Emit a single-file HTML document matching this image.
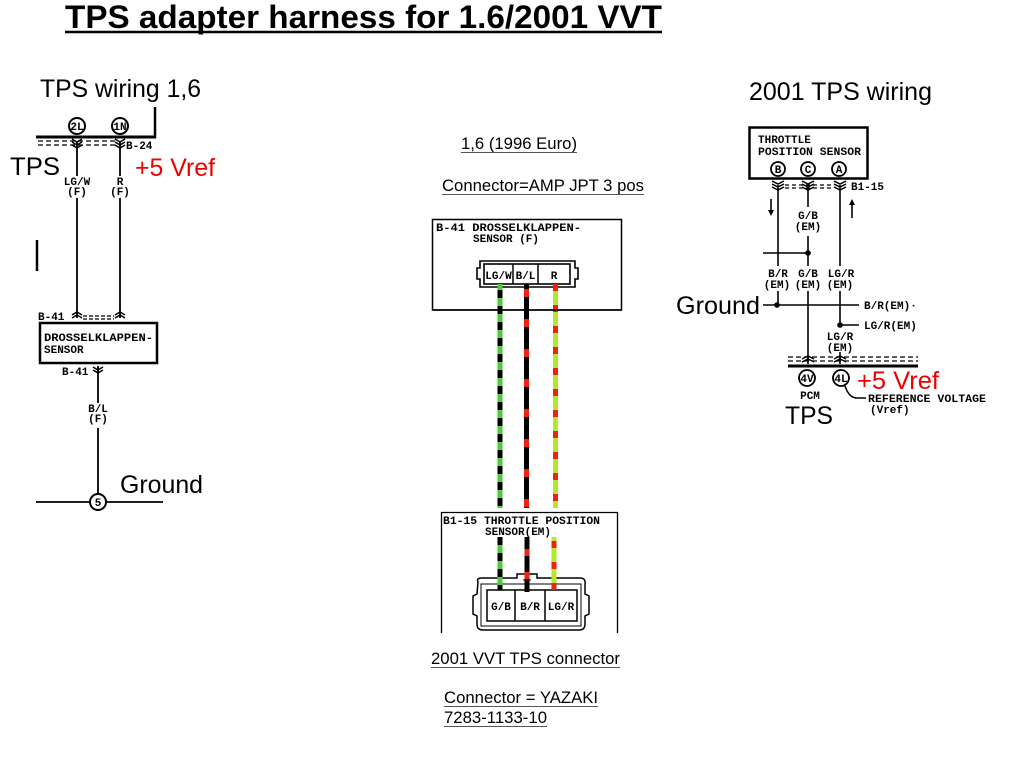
<!DOCTYPE html>
<html>
<head>
<meta charset="utf-8">
<style>
html,body{margin:0;padding:0;background:#fff;}
svg{display:block;}
.s{font-family:"Liberation Sans",sans-serif;fill:#000;}
.m{font-family:"Liberation Mono",monospace;font-weight:bold;fill:#000;font-size:11px;}
</style>
</head>
<body>
<svg width="1024" height="768" viewBox="0 0 1024 768" xmlns="http://www.w3.org/2000/svg">
<rect width="1024" height="768" fill="#fff"/>

<!-- Title -->
<text class="s" x="65" y="28" font-size="32" font-weight="bold" textLength="597" lengthAdjust="spacingAndGlyphs">TPS adapter harness for 1.6/2001 VVT</text>
<line x1="65" y1="32" x2="662" y2="32" stroke="#000" stroke-width="2.5"/>

<!-- ================= LEFT DIAGRAM ================= -->
<text class="s" x="40" y="97" font-size="25" textLength="161" lengthAdjust="spacingAndGlyphs">TPS wiring 1,6</text>
<line x1="155" y1="107" x2="155" y2="138" stroke="#000" stroke-width="2.5"/>
<line x1="36" y1="137" x2="156" y2="137" stroke="#000" stroke-width="3"/>
<circle cx="77" cy="126" r="8" fill="#fff" stroke="#000" stroke-width="2"/>
<text class="m" x="77" y="130" font-size="9" text-anchor="middle">2L</text>
<circle cx="120" cy="126" r="8" fill="#fff" stroke="#000" stroke-width="2"/>
<text class="m" x="120" y="130" font-size="9" text-anchor="middle">1N</text>
<line x1="38" y1="141" x2="116" y2="141" stroke="#000" stroke-width="1.2" stroke-dasharray="5 3"/>
<line x1="38" y1="145" x2="116" y2="145" stroke="#000" stroke-width="1.2" stroke-dasharray="5 3"/>
<g fill="none" stroke="#000" stroke-width="1.5">
<path d="M72 139 L77 142 L82 139 M72 142 L77 145 L82 142 M72 145 L77 148 L82 145"/>
<path d="M115 139 L120 142 L125 139 M115 142 L120 145 L125 142 M115 145 L120 148 L125 145"/>
</g>
<text class="m" x="126" y="149">B-24</text>
<text class="s" x="10" y="175" font-size="25" textLength="50" lengthAdjust="spacingAndGlyphs">TPS</text>
<text class="s" x="135" y="176" font-size="25" fill="#e00" style="fill:#e00" textLength="80" lengthAdjust="spacingAndGlyphs">+5 Vref</text>
<text class="m" x="77" y="185" text-anchor="middle">LG/W</text>
<text class="m" x="77" y="195" text-anchor="middle">(F)</text>
<text class="m" x="120" y="185" text-anchor="middle">R</text>
<text class="m" x="120" y="195" text-anchor="middle">(F)</text>
<g stroke="#000" stroke-width="1.8">
<line x1="77" y1="142" x2="77" y2="176"/>
<line x1="77" y1="198" x2="77" y2="318"/>
<line x1="120" y1="142" x2="120" y2="176"/>
<line x1="120" y1="198" x2="120" y2="318"/>
</g>
<line x1="37" y1="240" x2="37" y2="271" stroke="#000" stroke-width="2.5"/>
<text class="m" x="38" y="320">B-41</text>
<g fill="none" stroke="#000" stroke-width="1.5">
<path d="M72 315 L77 312 L82 315 M72 318 L77 315 L82 318"/>
<path d="M115 315 L120 312 L125 315 M115 318 L120 315 L125 318"/>
</g>
<line x1="83" y1="316" x2="114" y2="316" stroke="#000" stroke-width="1.2" stroke-dasharray="4 2"/>
<line x1="83" y1="319" x2="114" y2="319" stroke="#000" stroke-width="1.2" stroke-dasharray="4 2"/>
<rect x="40" y="323" width="117" height="40" fill="#fff" stroke="#000" stroke-width="2.5"/>
<text class="m" x="44" y="341" textLength="109" lengthAdjust="spacingAndGlyphs">DROSSELKLAPPEN-</text>
<text class="m" x="44" y="353">SENSOR</text>
<text class="m" x="62" y="375">B-41</text>
<g fill="none" stroke="#000" stroke-width="1.5">
<path d="M93 367 L98 370 L103 367 M93 370 L98 373 L103 370"/>
</g>
<line x1="98" y1="366" x2="98" y2="403" stroke="#000" stroke-width="1.8"/>
<text class="m" x="98" y="412" text-anchor="middle">B/L</text>
<text class="m" x="98" y="422" text-anchor="middle">(F)</text>
<line x1="98" y1="428" x2="98" y2="494" stroke="#000" stroke-width="1.8"/>
<line x1="36" y1="502" x2="163" y2="502" stroke="#000" stroke-width="1.8"/>
<circle cx="98" cy="502" r="8" fill="#fff" stroke="#000" stroke-width="2"/>
<text class="m" x="98" y="506" font-size="10" text-anchor="middle">5</text>
<text class="s" x="120" y="493" font-size="25" textLength="83" lengthAdjust="spacingAndGlyphs">Ground</text>

<!-- ================= MIDDLE ================= -->
<text class="s" x="461" y="149" font-size="16.5" fill="#222" textLength="116" lengthAdjust="spacingAndGlyphs">1,6 (1996 Euro)</text>
<line x1="461" y1="152.5" x2="577" y2="152.5" stroke="#555" stroke-width="1"/>
<text class="s" x="442" y="191" font-size="16.5" fill="#222" textLength="202" lengthAdjust="spacingAndGlyphs">Connector=AMP JPT 3 pos</text>
<line x1="442" y1="194.5" x2="644" y2="194.5" stroke="#555" stroke-width="1"/>

<!-- Box 1 -->
<rect x="432.5" y="219.5" width="189" height="90.5" fill="#fff" stroke="#000" stroke-width="1.5"/>
<text class="m" x="436" y="231" textLength="145" lengthAdjust="spacingAndGlyphs">B-41 DROSSELKLAPPEN-</text>
<text class="m" x="473" y="242">SENSOR (F)</text>
<!-- connector 1 -->
<path d="M480 261 L575 261 L575 268 L578 268 L578 279 L575 279 L575 287 L480 287 L480 279 L477 279 L477 268 L480 268 Z" fill="#fff" stroke="#000" stroke-width="1.6"/>
<rect x="484" y="264" width="86" height="20" fill="#fff" stroke="#000" stroke-width="1.6"/>
<line x1="513" y1="264" x2="513" y2="284" stroke="#000" stroke-width="1.5"/>
<line x1="538" y1="264" x2="538" y2="284" stroke="#000" stroke-width="1.5"/>
<text class="m" x="498.5" y="279" text-anchor="middle" font-size="10.5">LG/W</text>
<text class="m" x="525.5" y="279" text-anchor="middle" font-size="10.5">B/L</text>
<text class="m" x="554" y="279" text-anchor="middle" font-size="10.5">R</text>

<!-- Box 2 -->
<path d="M441.5 633 L441.5 512.5 L617.5 512.5 L617.5 633" fill="none" stroke="#000" stroke-width="1.3"/>
<text class="m" x="443" y="524" textLength="157" lengthAdjust="spacingAndGlyphs">B1-15 THROTTLE POSITION</text>
<text class="m" x="485" y="535">SENSOR(EM)</text>
<!-- connector 2 -->
<path d="M478 582 Q476 578 482 578 L517 578 L517 574 L537 574 L537 578 L580 578 Q586 578 585 584 L585 594 L589 596 L589 614 L585 616 L585 624 Q585 630 579 630 L483 630 Q477 630 477 624 L477 616 L473 614 L473 596 L477 594 Z" fill="#fff" stroke="#000" stroke-width="1.5"/>
<path d="M481 584 L581 584 L581 626 L481 626 Z" fill="none" stroke="#000" stroke-width="1"/>
<rect x="487" y="590" width="90" height="31" fill="#fff" stroke="#000" stroke-width="1.5"/>
<line x1="515" y1="590" x2="515" y2="621" stroke="#000" stroke-width="1.5"/>
<line x1="545" y1="590" x2="545" y2="621" stroke="#000" stroke-width="1.5"/>
<text class="m" x="501" y="610" text-anchor="middle" font-size="10.5">G/B</text>
<text class="m" x="530" y="610" text-anchor="middle" font-size="10.5">B/R</text>
<text class="m" x="561" y="610" text-anchor="middle" font-size="10.5">LG/R</text>
<path d="M523 580 L531 580 M527 576 L527 584" stroke="#000" stroke-width="1"/>

<!-- Wires -->
<g stroke-width="5" fill="none">
<!-- green/black -->
<line x1="500" y1="284" x2="500" y2="508" stroke="#4ccc3a"/>
<line x1="500" y1="284" x2="500" y2="508" stroke="#000" stroke-dasharray="8 8" stroke-dashoffset="-6"/>
<line x1="500" y1="537" x2="500" y2="590" stroke="#4ccc3a"/>
<line x1="500" y1="537" x2="500" y2="590" stroke="#000" stroke-dasharray="8 8"/>
<!-- black/red -->
<line x1="526.5" y1="284" x2="526.5" y2="508" stroke="#000"/>
<line x1="526.5" y1="284" x2="526.5" y2="508" stroke="#e21" stroke-dasharray="8 22" stroke-dashoffset="-5"/>
<line x1="527" y1="537" x2="527" y2="592" stroke="#000"/>
<line x1="527" y1="537" x2="527" y2="592" stroke="#e21" stroke-dasharray="7 16" stroke-dashoffset="-12"/>
<!-- lime/red -->
<line x1="555.5" y1="284" x2="555.5" y2="508" stroke="#b4e82a"/>
<line x1="555.5" y1="284" x2="555.5" y2="508" stroke="#e21" stroke-dasharray="7 14"/>
<line x1="554" y1="537" x2="554" y2="590" stroke="#b4e82a"/>
<line x1="554" y1="537" x2="554" y2="590" stroke="#e21" stroke-dasharray="7 14" stroke-dashoffset="-4"/>
</g>
<line x1="432.5" y1="310" x2="621.5" y2="310" stroke="#000" stroke-width="1.5"/>

<text class="s" x="431" y="664" font-size="16.5" fill="#222" textLength="189" lengthAdjust="spacingAndGlyphs">2001 VVT TPS connector</text>
<line x1="431" y1="667.5" x2="620" y2="667.5" stroke="#555" stroke-width="1"/>
<text class="s" x="444" y="703" font-size="16.5" fill="#222" textLength="154" lengthAdjust="spacingAndGlyphs">Connector = YAZAKI</text>
<line x1="444" y1="706.5" x2="598" y2="706.5" stroke="#555" stroke-width="1"/>
<text class="s" x="444" y="723" font-size="16.5" fill="#222" textLength="103" lengthAdjust="spacingAndGlyphs">7283-1133-10</text>
<line x1="444" y1="726.5" x2="547" y2="726.5" stroke="#555" stroke-width="1"/>

<!-- ================= RIGHT DIAGRAM ================= -->
<text class="s" x="749" y="100" font-size="25" textLength="183" lengthAdjust="spacingAndGlyphs">2001 TPS wiring</text>
<rect x="749.5" y="127.5" width="118" height="51" fill="#fff" stroke="#000" stroke-width="2.5"/>
<text class="m" x="758" y="143">THROTTLE</text>
<text class="m" x="758" y="155" textLength="103" lengthAdjust="spacingAndGlyphs">POSITION SENSOR</text>
<circle cx="778" cy="169" r="7" fill="#fff" stroke="#000" stroke-width="1.8"/>
<text class="m" x="778" y="173" font-size="10" text-anchor="middle">B</text>
<circle cx="808" cy="169" r="7" fill="#fff" stroke="#000" stroke-width="1.8"/>
<text class="m" x="808" y="173" font-size="10" text-anchor="middle">C</text>
<circle cx="839" cy="169" r="7" fill="#fff" stroke="#000" stroke-width="1.8"/>
<text class="m" x="839" y="173" font-size="10" text-anchor="middle">A</text>
<g fill="none" stroke="#000" stroke-width="1.5">
<path d="M772 181 L778 184 L784 181 M772 184 L778 187 L784 184 M772 187 L778 190 L784 187"/>
<path d="M802 181 L808 184 L814 181 M802 184 L808 187 L814 184 M802 187 L808 190 L814 187"/>
<path d="M834 181 L840 184 L846 181 M834 184 L840 187 L846 184 M834 187 L840 190 L846 187"/>
</g>
<line x1="785" y1="185" x2="833" y2="185" stroke="#000" stroke-width="1.2" stroke-dasharray="4 3"/>
<line x1="785" y1="188" x2="833" y2="188" stroke="#000" stroke-width="1.2" stroke-dasharray="4 3"/>
<text class="m" x="851" y="190">B1-15</text>
<g stroke="#000" stroke-width="1.6" fill="none">
<line x1="778" y1="185" x2="778" y2="266"/>
<line x1="808" y1="185" x2="808" y2="207"/>
<line x1="808" y1="236" x2="808" y2="266"/>
<line x1="840" y1="185" x2="840" y2="266"/>
<line x1="763" y1="253" x2="808" y2="253"/>
<line x1="771" y1="199" x2="771" y2="213"/>
<line x1="852" y1="203" x2="852" y2="218"/>
</g>
<path d="M768 210 L771 216 L774 210 Z" fill="#000"/>
<path d="M849 205 L852 199 L855 205 Z" fill="#000"/>
<circle cx="808" cy="253" r="2.8" fill="#000"/>
<text class="m" x="808" y="219" text-anchor="middle">G/B</text>
<text class="m" x="808" y="230" text-anchor="middle">(EM)</text>
<text class="m" x="778" y="277" text-anchor="middle">B/R</text>
<text class="m" x="808" y="277" text-anchor="middle">G/B</text>
<text class="m" x="841" y="277" text-anchor="middle">LG/R</text>
<text class="m" x="777" y="288" text-anchor="middle">(EM)</text>
<text class="m" x="808" y="288" text-anchor="middle">(EM)</text>
<text class="m" x="840" y="288" text-anchor="middle">(EM)</text>
<g stroke="#000" stroke-width="1.6" fill="none">
<line x1="778" y1="291" x2="778" y2="305"/>
<line x1="808" y1="291" x2="808" y2="364"/>
<line x1="840" y1="291" x2="840" y2="325"/>
<line x1="763" y1="305" x2="859" y2="305"/>
<line x1="840" y1="325" x2="859" y2="325"/>
<line x1="840" y1="352" x2="840" y2="364"/>
</g>
<circle cx="777" cy="305" r="2.8" fill="#000"/>
<circle cx="840" cy="325" r="2.8" fill="#000"/>
<text class="m" x="864" y="309">B/R(EM)·</text>
<text class="m" x="864" y="329">LG/R(EM)</text>
<text class="m" x="840" y="340" text-anchor="middle">LG/R</text>
<text class="m" x="840" y="351" text-anchor="middle">(EM)</text>
<text class="s" x="676" y="314" font-size="25" textLength="84" lengthAdjust="spacingAndGlyphs">Ground</text>
<line x1="788" y1="357" x2="918" y2="357" stroke="#000" stroke-width="1.2" stroke-dasharray="5 3"/>
<line x1="788" y1="361" x2="918" y2="361" stroke="#000" stroke-width="1.2" stroke-dasharray="5 3"/>
<g fill="none" stroke="#000" stroke-width="1.5">
<path d="M802 359 L808 356 L814 359 M802 362 L808 359 L814 362"/>
<path d="M834 359 L840 356 L846 359 M834 362 L840 359 L846 362"/>
</g>
<line x1="788" y1="366" x2="918" y2="366" stroke="#000" stroke-width="3"/>
<circle cx="807" cy="378" r="8" fill="#fff" stroke="#000" stroke-width="1.8"/>
<text class="m" x="807" y="382" font-size="9.5" text-anchor="middle">4V</text>
<circle cx="841" cy="378" r="8" fill="#fff" stroke="#000" stroke-width="1.8"/>
<text class="m" x="841" y="382" font-size="9.5" text-anchor="middle">4L</text>
<text class="m" x="810" y="399" font-size="10" text-anchor="middle">PCM</text>
<path d="M845 386 Q849 398 857 398 L866 398" fill="none" stroke="#000" stroke-width="1.5"/>
<text class="m" x="868" y="402" font-size="10.5" textLength="118" lengthAdjust="spacingAndGlyphs">REFERENCE VOLTAGE</text>
<text class="m" x="870" y="413" font-size="10.5">(Vref)</text>
<text class="s" x="857" y="389" font-size="25" style="fill:#e00" textLength="82" lengthAdjust="spacingAndGlyphs">+5 Vref</text>
<text class="s" x="785" y="424" font-size="25" textLength="48" lengthAdjust="spacingAndGlyphs">TPS</text>
</svg>
</body>
</html>
